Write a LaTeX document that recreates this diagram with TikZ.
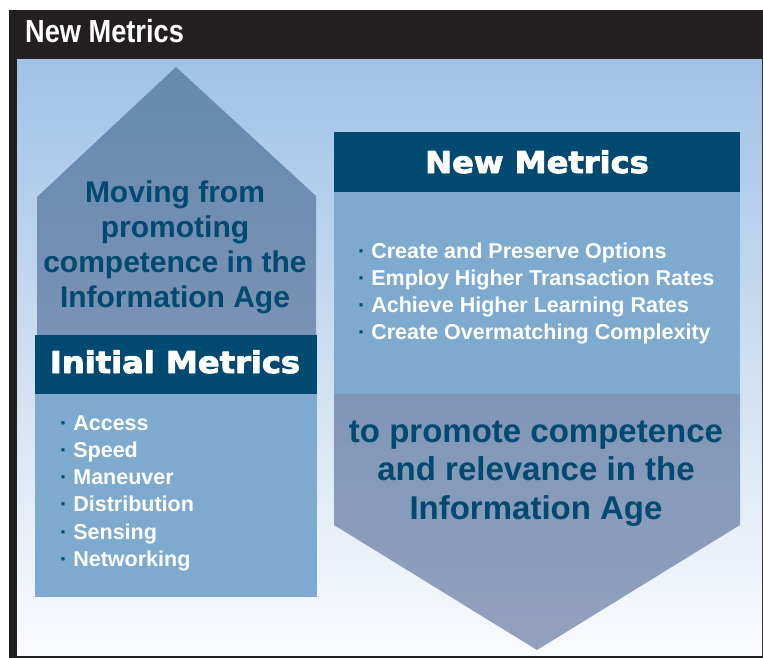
\documentclass[tikz,border=0pt]{standalone}
\usepackage{fontspec}
\setmainfont{Liberation Sans}
\newfontfamily\heavyfont{DejaVu Sans}
\definecolor{frameblack}{RGB}{35,31,32}
\definecolor{skytop}{RGB}{160,194,230}
\definecolor{skybot}{RGB}{250,251,254}
\definecolor{navy}{RGB}{0,73,113}
\definecolor{lightbox}{RGB}{126,170,208}
\definecolor{housetop}{RGB}{101,137,175}
\definecolor{housebot}{RGB}{122,146,180}
\definecolor{arrowtop}{RGB}{128,150,182}
\definecolor{arrowbot}{RGB}{146,161,190}
\newcommand\dotitem{{\color{navy}\textperiodcentered}\hspace{6pt}}
\newcommand\heavy[1]{\special{pdf:literal direct 2 Tr 0.9 w}#1\special{pdf:literal direct 0 Tr}}
\begin{document}
\begin{tikzpicture}[x=1pt,y=-1pt,line join=round,
  head/.style={text=white,inner sep=0pt,anchor=base,font=\heavyfont\bfseries\fontsize{30}{36}\selectfont},
  claim/.style={text=navy,inner sep=0pt,anchor=base,align=center,font=\bfseries\fontsize{30}{35}\selectfont},
  item/.style={text=white,inner sep=0pt,anchor=base west,font=\bfseries\fontsize{21.5}{26}\selectfont}]
\useasboundingbox (0,0) rectangle (763,658);
\path (37,197) coordinate (hL) (176,67) coordinate (hT) (316,196) coordinate (hR) (316,335) coordinate (hBR) (37,335) coordinate (hBL)
      (334,394) coordinate (aL) (740,394) coordinate (aR) (740,525) coordinate (aRB) (537,650) coordinate (aT) (334,525) coordinate (aLB);
% frame and sky
\fill[frameblack] (9,10) rectangle (763,658);
\shade[top color=skytop,bottom color=skybot] (17,60) rectangle (762,655);
\node[anchor=base west,text=white,inner sep=0pt,font=\bfseries\fontsize{32}{36}\selectfont] (title) at (25,43) {\scalebox{.85}[1]{New Metrics}};
% left: up arrow
\shade[top color=housetop,bottom color=housebot] (hBL)--(hL)--(hT)--(hR)--(hBR)--cycle;
\fill[navy] (35,335) rectangle (317,394);
\fill[lightbox] (35,394) rectangle (317,597);
\node[claim] (from) at (175,307) {Moving from\\promoting\\competence in the\\Information Age};
\node[head] (initial) at (175,373) {\scalebox{1.07}[1]{\heavy{Initial Metrics}}};
\foreach \t [count=\i from 0] in {Access,Speed,Maneuver,Distribution,Sensing,Networking}
  \node[item] (init\i) at (60,430+27.3*\i) {\dotitem\t};
% right: down arrow
\fill[navy] (334,132) rectangle (740,192);
\fill[lightbox] (334,192) rectangle (740,394);
\shade[top color=arrowtop,bottom color=arrowbot] (aL)--(aR)--(aRB)--(aT)--(aLB)--cycle;
\node[head] (new) at (537,173) {\scalebox{1.07}[1]{\heavy{New Metrics}}};
\foreach \t [count=\i from 0] in {Create and Preserve Options,Employ Higher Transaction Rates,Achieve Higher Learning Rates,Create Overmatching Complexity}
  \node[item] (new\i) at (358,258+27.3*\i) {\dotitem\t};
\node[claim,font=\bfseries\fontsize{33}{38.5}\selectfont] (to) at (536,519) {to promote competence\\and relevance in the\\Information Age};
\end{tikzpicture}
\end{document}
